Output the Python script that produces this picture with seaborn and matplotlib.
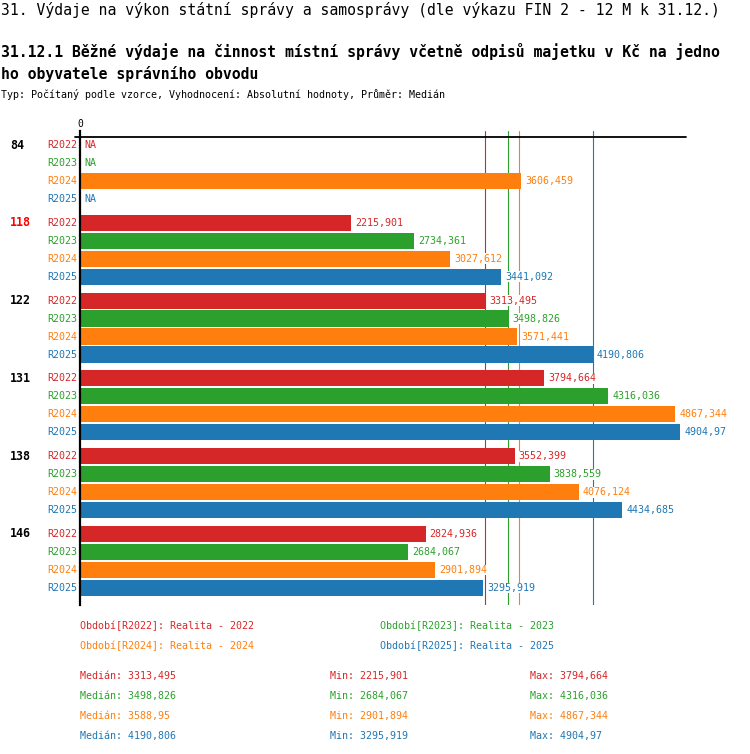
import numpy as np
import pandas as pd
import matplotlib
matplotlib.use('Agg')
import matplotlib.pyplot as plt
import seaborn as sns

# data
obvody = ['84', '118', '122', '131', '138', '146']
obdobi = ['R2022', 'R2023', 'R2024', 'R2025']
r2022 = [np.nan, 2215.901, 3313.495, 3794.664, 3552.399, 2824.936]
r2023 = [np.nan, 2734.361, 3498.826, 4316.036, 3838.559, 2684.067]
r2024 = [3606.459, 3027.612, 3571.441, 4867.344, 4076.124, 2901.894]
r2025 = [np.nan, 3441.092, 4190.806, 4904.97, 4434.685, 3295.919]
legend_texts = ['Období[R2022]: Realita - 2022', 'Období[R2023]: Realita - 2023',
                'Období[R2024]: Realita - 2024', 'Období[R2025]: Realita - 2025']
colors = ['#d62728', '#2ca02c', '#ff7f0e', '#1f77b4']
highlight = '118'

title = '31. Výdaje na výkon státní správy a samosprávy (dle výkazu FIN 2 - 12 M k 31.12.)'
subtitle1 = '31.12.1 Běžné výdaje na činnost místní správy včetně odpisů majetku v Kč na jedno'
subtitle2 = 'ho obyvatele správního obvodu'
note = 'Typ: Počítaný podle vzorce, Vyhodnocení: Absolutní hodnoty, Průměr: Medián'

series = [r2022, r2023, r2024, r2025]
rows = []
for name, vals in zip(obdobi, series):
    for ob, v in zip(obvody, vals):
        rows.append({'obvod': ob, 'obdobi': name, 'value': v})
df = pd.DataFrame(rows)


def fmt(v):
    s = '%.3f' % v
    s = s.rstrip('0').rstrip('.')
    return s.replace('.', ',')


sns.set_style('white')
plt.rcParams['font.family'] = ['DejaVu Sans Mono']
plt.rcParams['text.color'] = 'black'

W, H = 750, 754
fig = plt.figure(figsize=(W / 100, H / 100), dpi=100)
ax = fig.add_axes([80 / W, 1 - 605 / H, 606 / W, 474 / H])

width = 0.925
sns.barplot(data=df, x='value', y='obvod', hue='obdobi', order=obvody,
            hue_order=obdobi, palette=colors, saturation=1, orient='h',
            width=width, gap=0.1, errorbar=None, legend=False,
            linewidth=0, ax=ax)

ax.set_xlim(0, 4954)
ax.set_ylim(5.566, -0.527)
ax.set_xticks([])
ax.set_yticks([])
ax.set_xlabel('')
ax.set_ylabel('')
for s in ['top', 'right', 'bottom']:
    ax.spines[s].set_visible(False)
ax.spines['left'].set_color('black')
ax.spines['left'].set_linewidth(1.6)

# horizontal axis line near the top
ax.plot([-40, 4954], [-0.45, -0.45], color='black', lw=1.3, clip_on=False)
ax.text(0, -0.55, '0', ha='center', va='bottom', fontsize=7)

# median lines
for vals, c in zip(series, colors):
    ax.axvline(np.nanmedian(vals), color=c, lw=0.8, zorder=0)

box = dict(facecolor='white', edgecolor='none', pad=0.3)
step = width / len(obdobi)
for gi, ob in enumerate(obvody):
    ax.text(-70 / 0.1223, gi + (0 - 1.5) * step, ob, ha='left', va='center',
            fontsize=8.4, fontweight='bold',
            color='red' if ob == highlight else 'black')
    for hi, (name, vals, c) in enumerate(zip(obdobi, series, colors)):
        y = gi + (hi - 1.5) * step
        ax.text(-3 / 0.1223, y, name, ha='right', va='center', fontsize=7.2, color=c)
        v = vals[gi]
        if np.isnan(v):
            ax.annotate('NA', (0, y), xytext=(3, 0), textcoords='offset points',
                        ha='left', va='center', fontsize=7.2, color=c)
        else:
            ax.annotate(fmt(v), (v, y), xytext=(3, 0), textcoords='offset points',
                        ha='left', va='center', fontsize=7.2, color=c,
                        bbox=box, zorder=5)

# titles
fig.text(1 / W, 1 - 10 / H, title, ha='left', va='center', fontsize=10.6)
fig.text(1 / W, 1 - 52 / H, subtitle1, ha='left', va='center', fontsize=10.6, fontweight='bold')
fig.text(1 / W, 1 - 74 / H, subtitle2, ha='left', va='center', fontsize=10.6, fontweight='bold')
fig.text(1 / W, 1 - 95 / H, note, ha='left', va='center', fontsize=7.2)

# legend block
leg_pos = [(80, 626), (380, 626), (80, 646), (380, 646)]
for (x, y), t, c in zip(leg_pos, legend_texts, colors):
    fig.text(x / W, 1 - y / H, t, ha='left', va='center', fontsize=7.2, color=c)

# stats block
for i, (vals, c) in enumerate(zip(series, colors)):
    y = 676 + i * 20
    fig.text(80 / W, 1 - y / H, 'Medián: ' + fmt(np.nanmedian(vals)),
             ha='left', va='center', fontsize=7.2, color=c)
    fig.text(330 / W, 1 - y / H, 'Min: ' + fmt(np.nanmin(vals)),
             ha='left', va='center', fontsize=7.2, color=c)
    fig.text(530 / W, 1 - y / H, 'Max: ' + fmt(np.nanmax(vals)),
             ha='left', va='center', fontsize=7.2, color=c)

fig.savefig('out.png', dpi=100)
